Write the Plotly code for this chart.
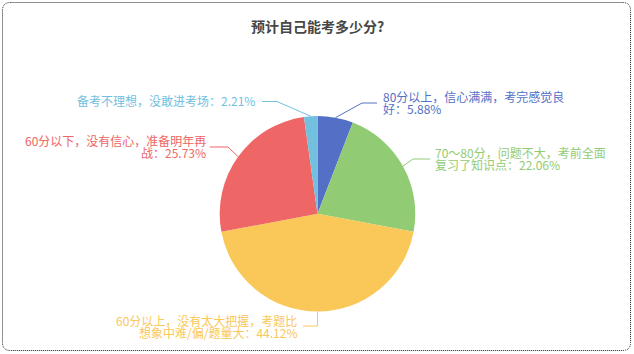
import math
import plotly.graph_objects as go

# ---------------- data ----------------
title_text = "预计自己能考多少分?"
categories = [
    "80分以上，信心满满，考完感觉良好",
    "70～80分，问题不大，考前全面复习了知识点",
    "60分以上，没有太大把握，考题比想象中难/偏/题量大",
    "60分以下，没有信心，准备明年再战",
    "备考不理想，没敢进考场",
]
percents = [5.88, 22.06, 44.12, 25.73, 2.21]

# ---------------- style / layout ----------------
colors = ["#5470c6", "#91cc75", "#fac858", "#ee6666", "#73c0de"]
W, H = 634, 354
CX, CY, R = 317.5, 213.8, 97.8          # pie centre / radius in px
FONT = "Noto Sans CJK SC, Microsoft YaHei, sans-serif"
LABEL_SIZE = 12
LINE_GAP = 12.3
# label layout: first-line length (chars), elbow point, line end, text anchor x, first line y, side
label_layout = [
    dict(wrap=16, elbow=(362, 103), end=(377, 103), tx=382, ty=96.5, side="left"),
    dict(wrap=16, elbow=(413, 159), end=(430, 159), tx=434, ty=152.5, side="left"),
    dict(wrap=16, elbow=(317.5, 326), end=(303, 326), tx=298, ty=320.5, side="right"),
    dict(wrap=16, elbow=(228, 147), end=(210, 147), tx=207, ty=140.5, side="right"),
    dict(wrap=None, elbow=(277, 101.5), end=(262, 101.5), tx=256, ty=100, side="right"),
]

fig = go.Figure()
fig.add_trace(go.Pie(
    labels=categories,
    values=percents,
    sort=False,
    direction="clockwise",
    rotation=0,
    marker=dict(colors=colors, line=dict(width=0)),
    textinfo="none",
    hoverinfo="label+percent",
    showlegend=False,
    domain=dict(x=[(CX - R) / W, (CX + R) / W], y=[1 - (CY + R) / H, 1 - (CY - R) / H]),
))

shapes = []
annotations = []

# outer dotted rounded border
x0, y0, x1, y1, rr = 2.5, 2.5, 630.5, 350.5, 8
path = (f"M {x0 + rr},{y0} L {x1 - rr},{y0} Q {x1},{y0} {x1},{y0 + rr} "
        f"L {x1},{y1 - rr} Q {x1},{y1} {x1 - rr},{y1} L {x0 + rr},{y1} "
        f"Q {x0},{y1} {x0},{y1 - rr} L {x0},{y0 + rr} Q {x0},{y0} {x0 + rr},{y0} Z")
shapes.append(dict(type="path", path=path, xref="x", yref="y",
                   line=dict(color="#222222", width=1, dash="1px,1px")))

# title
annotations.append(dict(text=f"<b>{title_text}</b>", x=CX, y=26, xref="x", yref="y",
                        showarrow=False, xanchor="center", yanchor="middle",
                        font=dict(family=FONT, size=14, color="#464646")))

# labels with leader lines computed from data angles
total = sum(percents)
cum = 0.0
for name, val, col, lay in zip(categories, percents, colors, label_layout):
    mid = (cum + val / 2) / total * 2 * math.pi
    cum += val
    ex = CX + R * math.sin(mid)
    ey = CY - R * math.cos(mid)
    (bx, by), (fx, fy) = lay["elbow"], lay["end"]
    shapes.append(dict(type="path", xref="x", yref="y",
                       path=f"M {ex},{ey} L {bx},{by} L {fx},{fy}",
                       line=dict(color=col, width=1)))
    text = f"{name}：{val:.2f}%"
    n = lay["wrap"]
    lines = [text[:n], text[n:]] if n else [text]
    for k, ln in enumerate(lines):
        annotations.append(dict(
            text=ln, x=lay["tx"], y=lay["ty"] + k * LINE_GAP, xref="x", yref="y",
            showarrow=False, xanchor=lay["side"], yanchor="middle", borderpad=0,
            font=dict(family=FONT, size=LABEL_SIZE, color=col)))

fig.update_layout(
    width=W, height=H,
    margin=dict(l=0, r=0, t=0, b=0),
    paper_bgcolor="white", plot_bgcolor="rgba(0,0,0,0)",
    xaxis=dict(range=[0, W], visible=False, fixedrange=True),
    yaxis=dict(range=[H, 0], visible=False, fixedrange=True),
    shapes=shapes,
    annotations=annotations,
    showlegend=False,
)

fig.write_html("out.html")
